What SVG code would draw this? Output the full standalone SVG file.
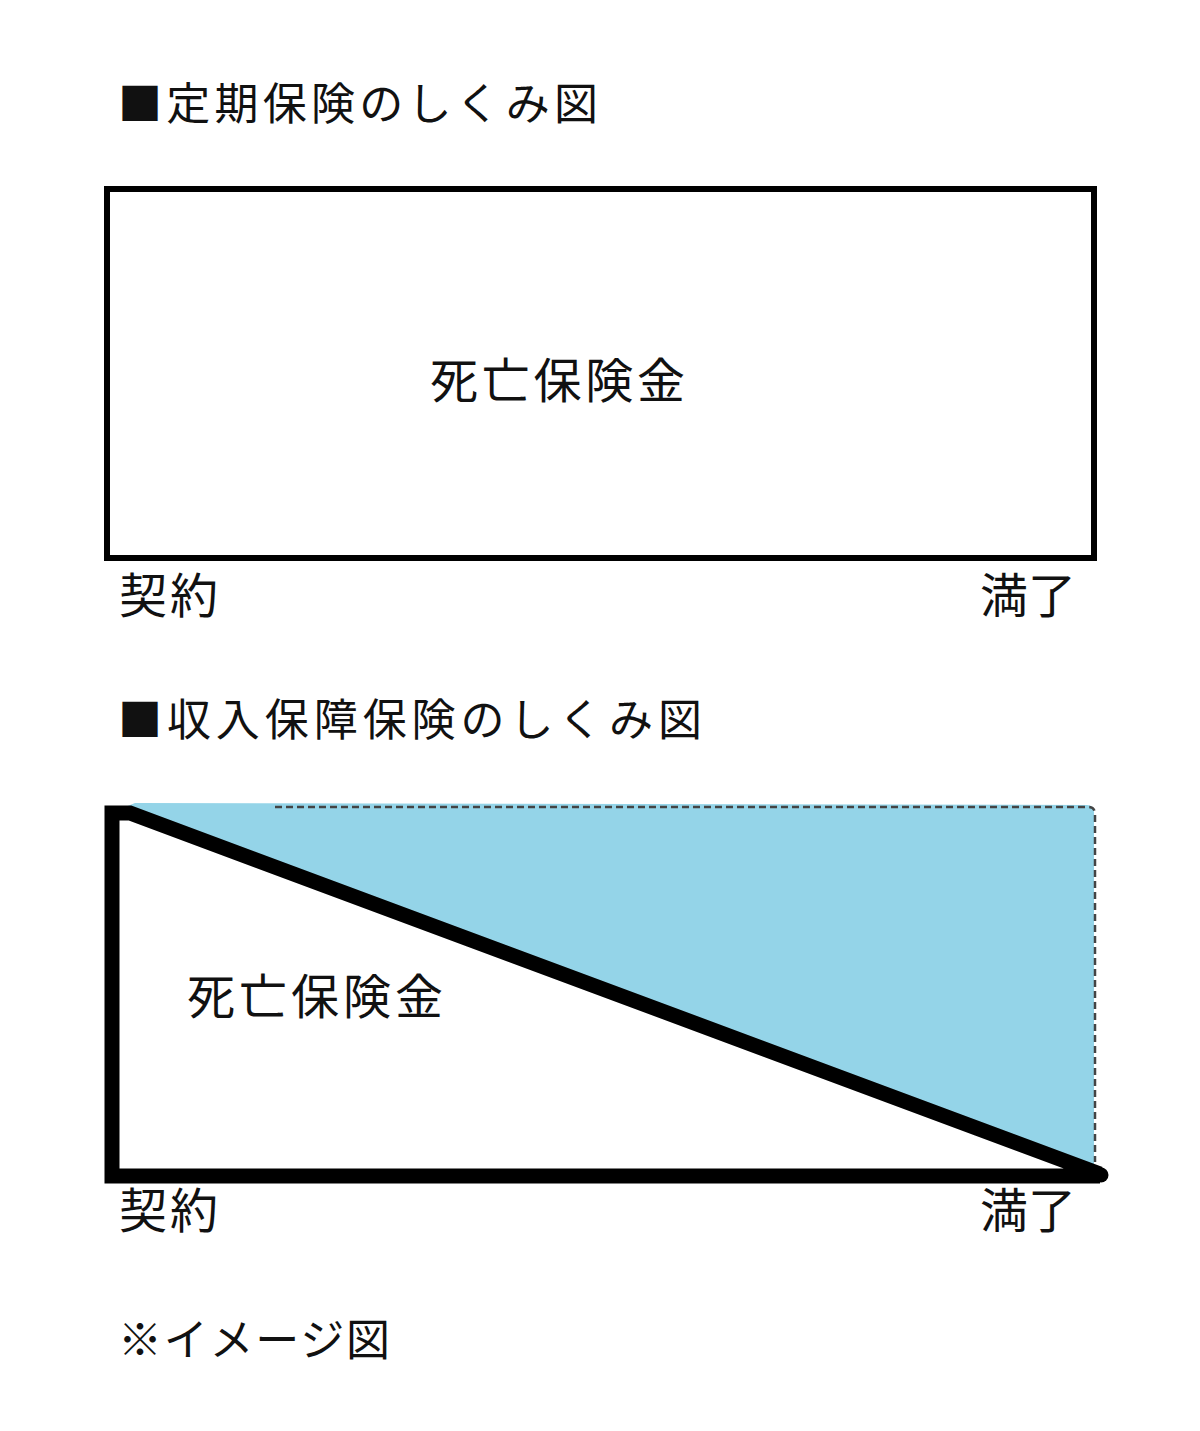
<svg xmlns="http://www.w3.org/2000/svg" width="1200" height="1431" viewBox="0 0 1200 1431">
<style>
.t{font-family:"Noto Sans CJK JP","Noto Sans CJK SC",sans-serif;fill:#111;}
.h{font-size:44px;}
.l{font-size:48px;}
.k{stroke:#000;fill:none;}
</style>
<rect width="1200" height="1431" fill="#fff"/>
<g id="title1"><text class="t h" x="118" y="120" textLength="480" lengthAdjust="spacing">■定期保険のしくみ図</text></g>
<g id="box1">
<rect x="107" y="189" width="987" height="369" fill="#fff" stroke="#000" stroke-width="6"/>
<text class="t l" x="430" y="398" textLength="255" lengthAdjust="spacing">死亡保険金</text>
</g>
<g id="start1"><text class="t l" x="119" y="613" textLength="99" lengthAdjust="spacing">契約</text></g>
<g id="end1"><text class="t l" x="980" y="613" textLength="96" lengthAdjust="spacing">満了</text></g>
<g id="title2"><text class="t h" x="118" y="736" textLength="584" lengthAdjust="spacing">■収入保障保険のしくみ図</text></g>
<g id="chart2">
<path d="M135,803 L1087,805 Q1094,805 1094,812 L1094,1168 L113,812 Z" fill="#94d4e8"/>
<path d="M275,807 L1088,807 Q1095,807 1095,814 L1095,1162" fill="none" stroke="#444" stroke-width="2.5" stroke-dasharray="7,4"/>
<path class="k" d="M1100,1174 L130,813 L112,813 L112,1176 L1100,1176" stroke-width="15" stroke-linecap="butt" stroke-linejoin="miter"/>
<circle cx="1101" cy="1175" r="7.5" fill="#000"/>
<text class="t l" x="187" y="1014" textLength="256" lengthAdjust="spacing">死亡保険金</text>
</g>
<g id="start2"><text class="t l" x="119" y="1228" textLength="99" lengthAdjust="spacing">契約</text></g>
<g id="end2"><text class="t l" x="980" y="1228" textLength="96" lengthAdjust="spacing">満了</text></g>
<g id="note"><text class="t h" x="118" y="1356" textLength="272" lengthAdjust="spacing">※イメージ図</text></g>
<g id="connectors"></g>
</svg>
